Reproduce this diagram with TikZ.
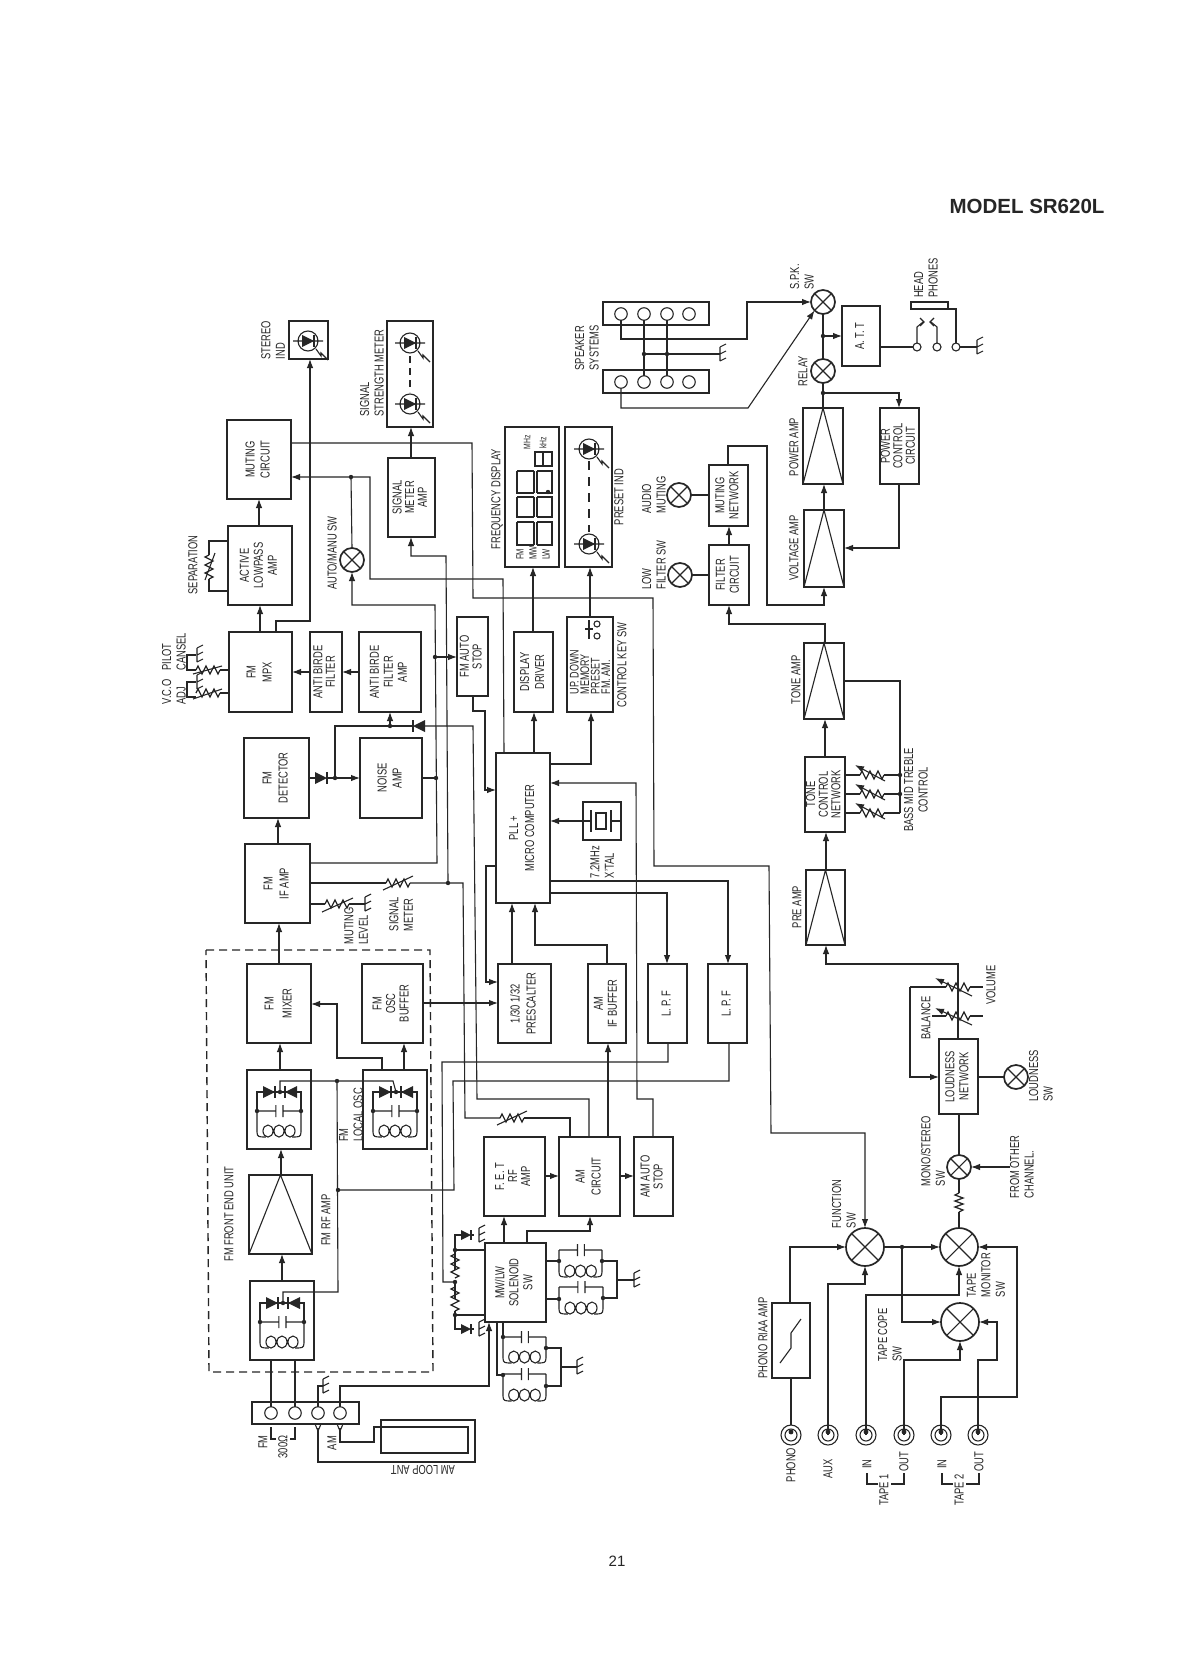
\documentclass[tikz,border=0pt]{standalone}
\usepackage{fontspec}
\setmainfont{Liberation Sans}[FakeStretch=0.72]
\newfontfamily\plainf{Liberation Sans}
\usetikzlibrary{arrows.meta}
\definecolor{ink}{HTML}{262626}
\newcounter{lbn}
\newcommand\rt[2][15]{\rotatebox{90}{\fontsize{13}{#1}\selectfont\begin{tabular}{@{}c@{}}#2\end{tabular}}}
\newcommand\bx[6]{\node[box,minimum width={(#4-#2)*1pt},minimum height={(#5-#3)*1pt}] (#1) at ({(#2+#4)/2},{(#3+#5)/2}) {#6};}
\newcommand\lb[4][center]{\stepcounter{lbn}\node[lbl,align=#1] (lb\thelbn) at (#2,#3) {#4};}
\newcommand\lamp[4]{\node[lampc,minimum size={2*#4*1pt}] (#1) at (#2,#3) {};
  \draw[wire] (#1.north east)--(#1.south west) (#1.north west)--(#1.south east);}
\newcommand\jack[3]{\node[lampc,minimum size=20pt,line width=1.1pt] (#1) at (#2,#3) {};
  \draw[wire] (#2,#3) circle (6);}
\newcommand\term[3]{\node[lampc,minimum size=12.5pt,line width=1.1pt] (#1) at (#2,#3) {};}
\newcommand\dotp[2]{\fill[ink] (#1,#2) circle (2.2);}
\newcommand\amptri[1]{\draw[wire] (#1.south west)--(#1.north)--(#1.south east);}
\newcommand\zigH[2]{\draw[wire,line width=1.3pt] (#1-12,#2) -- ++(2,-4) -- ++(4,8) -- ++(4,-8) -- ++(4,8) -- ++(4,-8) -- ++(4,8) -- ++(2,-4);}
\newcommand\zigV[2]{\draw[wire,line width=1.3pt] (#1,#2-12) -- ++(-4,2) -- ++(8,4) -- ++(-8,4) -- ++(8,4) -- ++(-8,4) -- ++(8,4) -- ++(-4,2);}
\newcommand\gnd[2]{\draw[wire] (#1,#2-7)--(#1,#2+7) (#1,#2-7)--++(6,-3) (#1,#2)--++(6,-3) (#1,#2+7)--++(6,-3);}
\newcommand\dioR[3]{\fill[ink] (#1-#3,#2-#3)--(#1-#3,#2+#3)--(#1+#3,#2)--cycle; \draw[wire] (#1+#3,#2-#3)--(#1+#3,#2+#3);}
\newcommand\dioL[3]{\fill[ink] (#1+#3,#2-#3)--(#1+#3,#2+#3)--(#1-#3,#2)--cycle; \draw[wire] (#1-#3,#2-#3)--(#1-#3,#2+#3);}
\newcommand\led[2]{\draw[wire] (#1,#2) circle (10) (#1-15,#2)--(#1+15,#2);
  \dioR{#1}{#2}{6}
  \draw[wire] (#1+8,#2+8)--(#1+13,#2+15)--(#1+13,#2+12)--(#1+20,#2+19);}
% tank: xL xR yCap yBottom
\newcommand\tank[4]{\draw[wire] (#1,#3)--({#1+(#2-#1)*0.43},#3) ({#1+(#2-#1)*0.43},#3-6)--({#1+(#2-#1)*0.43},#3+6)
   ({#1+(#2-#1)*0.59},#3-6)--({#1+(#2-#1)*0.59},#3+6) ({#1+(#2-#1)*0.59},#3)--(#2,#3)
   (#1,#3)--(#1,#4-5) to[out=90,in=180,looseness=0] (#1,#4-5) .. controls (#1,#4) and (#1+2,#4) .. ({#1+(#2-#1)*0.2},#4)
   (#2,#3)--(#2,#4-5) .. controls (#2,#4) and (#2-2,#4) .. ({#2-(#2-#1)*0.2},#4);
  \draw[wire] ({#1+(#2-#1)*0.25},#4-6) ellipse (5 and 6) ({#1+(#2-#1)*0.5},#4-6) ellipse (5 and 6) ({#1+(#2-#1)*0.75},#4-6) ellipse (5 and 6);}
\newcommand\tuner[3]{\bx{#1}{#2}{#3}{#2+64}{#3+79}{}
  \begin{scope}[shift={(#2,#3)}]
   \tank{10}{54}{41}{67}
   \draw[wire] (10,41)--(10,22)--(54,22)--(54,41);
   \dioR{22}{22}{6}\dioL{44}{22}{6}
   \dotp{33}{22}\dotp{10}{41}\dotp{54}{41}
  \end{scope}}
\newcommand\seg[4]{\draw[wire] (517,#1)--(517,#2)--(#3,#2) (#4,#2)--(552,#2)--(552,#1)--(#4,#1) (#3,#1)--(517,#1) (#3,#1)--(#3,#2) (#4,#1)--(#4,#2);}
\tikzset{
  wire/.style={draw=ink,line width=1.1pt},
  arr/.style={wire,-{Latex[length=9pt,width=6.5pt]}},
  box/.style={draw=ink,line width=1.9pt,rectangle,inner sep=0pt,outer sep=0pt,text=ink},
  lampc/.style={draw=ink,line width=1.7pt,circle,inner sep=0pt,outer sep=0pt},
  lbl/.style={rotate=90,inner sep=0pt,text=ink,font=\fontsize{13}{14.5}\selectfont},
}
\begin{document}
\begin{tikzpicture}[x=1pt,y=-1pt]
\useasboundingbox (0,0) rectangle (1188,1680);
\fill[white] (0,0) rectangle (1188,1680);

% ---- boxes
\bx{ster}{289}{321}{328}{359}{}
\bx{ssm}{387}{321}{433}{427}{}
\bx{mut}{227}{420}{291}{499}{\rt{MUTING\\CIRCUIT}}
\bx{alp}{228}{526}{292}{605}{\rt[14]{ACTIVE\\LOWPASS\\AMP}}
\bx{mpx}{229}{632}{292}{712}{\rt[16]{FM\\MPX}}
\bx{abf}{310}{632}{342}{712}{\rt[12]{ANTI BIRDE\\FILTER}}
\bx{aba}{359}{632}{421}{712}{\rt[14]{ANTI BIRDE\\FILTER\\AMP}}
\bx{sma}{388}{458}{435}{537}{\rt[12]{SIGNAL\\METER\\AMP}}
\bx{fdisp}{505}{427}{559}{567}{}
\bx{pind}{565}{427}{612}{567}{}
\bx{fas}{457}{617}{488}{696}{\rt[12]{FM AUTO\\STOP}}
\bx{disp}{514}{632}{553}{712}{\rt[15]{DISPLAY\\DRIVER}}
\bx{ckey}{567}{617}{613}{712}{}
\bx{pll}{496}{753}{550}{903}{\rt[16]{PLL +\\MICRO COMPUTER}}
\bx{xtal}{583}{802}{621}{840}{}
\bx{pres}{498}{964}{551}{1043}{\rt[16]{1/30 1/32\\PRESCALTER}}
\bx{aif}{588}{964}{626}{1043}{\rt[14]{AM\\IF BUFFER}}
\bx{lpfa}{648}{964}{687}{1043}{\rt{L. P. F}}
\bx{lpfb}{708}{964}{747}{1043}{\rt{L. P. F}}
\bx{det}{244}{738}{309}{818}{\rt[16]{FM\\DETECTOR}}
\bx{noise}{360}{738}{422}{818}{\rt[15]{NOISE\\AMP}}
\bx{ifa}{245}{844}{310}{923}{\rt[16]{FM\\IF AMP}}
\bx{mix}{247}{964}{311}{1043}{\rt[18]{FM\\MIXER}}
\bx{osc}{362}{964}{423}{1043}{\rt[13.5]{FM\\OSC\\BUFFER}}
\tuner{tuna}{247}{1070}
\tuner{tunb}{363}{1070}
\bx{rfa}{249}{1175}{312}{1254}{}
\tuner{tunc}{250}{1281}
\draw[wire,line width=1.4pt,dash pattern=on 8pt off 5pt] (206,950)--(430,950)--(433,1372)--(209,1372)--cycle;
\bx{strip}{252}{1402}{359}{1424}{}
\bx{fet}{484}{1137}{545}{1216}{\rt[13]{F. E. T\\RF\\AMP}}
\bx{amc}{559}{1137}{620}{1216}{\rt[16]{AM\\CIRCUIT}}
\bx{ast}{634}{1137}{673}{1216}{\rt[13]{AM AUTO\\STOP}}
\bx{sol}{485}{1243}{546}{1322}{\rt[14]{MW/LW\\SOLENOID\\SW}}
\bx{spka}{603}{302}{709}{325}{}
\bx{spkb}{603}{370}{709}{393}{}
\bx{att}{842}{306}{880}{366}{\rt{A. T. T}}
\bx{pwa}{803}{408}{843}{484}{}
\bx{pwc}{880}{408}{919}{484}{\rt[11.5]{POWER\\CONTROL\\CIRCUIT}}
\bx{vga}{804}{510}{844}{587}{}
\bx{mnet}{709}{465}{748}{526}{\rt[14]{MUTING\\NETWORK}}
\bx{filt}{709}{545}{749}{605}{\rt[14]{FILTER\\CIRCUIT}}
\bx{tamp}{804}{643}{844}{719}{}
\bx{tnet}{805}{757}{845}{832}{\rt[12]{TONE\\CONTROL\\NETWORK}}
\bx{pre}{806}{870}{845}{945}{}
\bx{loud}{939}{1039}{978}{1114}{\rt[14]{LOUDNESS\\NETWORK}}
\bx{riaa}{772}{1303}{810}{1378}{}
\draw[wire,line width=1.3pt,fill=white] (911,302) rectangle (948,309);
\coordinate (hp) at (948,309);
\amptri{rfa}\amptri{pwa}\amptri{vga}\amptri{tamp}\amptri{pre}
\draw[wire] (780,1363)--(791,1348)--(791,1333)--(801,1319);

% ---- lamps / switches
\lamp{amsw}{352}{560}{12}
\lamp{spksw}{823}{302}{12}
\lamp{rel}{823}{371}{12}
\lamp{lamA}{679}{495}{12}
\lamp{lamB}{680}{575}{12}
\lamp{lamL}{1016}{1077}{12}
\lamp{mono}{959}{1167}{12}
\lamp{fsw}{865}{1247}{19}
\lamp{tmon}{959}{1247}{19}
\lamp{tcop}{960}{1322}{19}

% ---- jacks and terminals
\jack{ja}{791}{1435}\jack{jb}{828}{1435}\jack{jc}{866}{1435}
\jack{jd}{904}{1435}\jack{je}{941}{1435}\jack{jf}{978}{1435}
\term{sa}{271}{1413}\term{sb}{295}{1413}\term{sc}{318}{1413}\term{sd}{340}{1413}
\term{ua}{621}{314}\term{ub}{644}{314}\term{uc}{667}{314}\term{ud}{689}{314}
\term{va}{621}{382}\term{vb}{644}{382}\term{vc}{667}{382}\term{vd}{689}{382}
\node[lampc,minimum size=8pt,line width=1.1pt] (ha) at (917,347) {};
\node[lampc,minimum size=8pt,line width=1.1pt] (hb) at (937,347) {};
\node[lampc,minimum size=8pt,line width=1.1pt] (hc) at (956,347) {};

% ---- LEDs
\led{308}{341}
\led{410}{343}\led{410}{404}
\draw[wire,dash pattern=on 7pt off 5pt] (410,356)--(410,392);
\led{589}{449}\led{589}{544}
\draw[wire,dash pattern=on 9pt off 7pt] (589,461)--(589,532);

% ---- frequency display
\seg{522}{545}{534}{537}
\seg{497}{517}{534}{537}
\seg{471}{493}{534}{537}
\draw[wire] (535,452) rectangle (552,466) (543,452)--(543,466);
\dotp{548}{492}
\node[lbl,font=\fontsize{10.5}{13}\selectfont,align=left] (fml) at (533,553) {FM\\MW\\LW};
\node[lbl,font=\fontsize{9.5}{11}\selectfont] (mhz) at (527,442) {MHz};
\node[lbl,font=\fontsize{9.5}{11}\selectfont] (khz) at (543,443) {kHz};

% ---- control key box
\node[lbl,font=\fontsize{12.5}{10.5}\selectfont,align=left] (ckt) at (590,672) {UP. DOWN\\MEMORY\\PRESET\\FM. AM.};
\draw[wire] (589,620)--(589,639) (585,629)--(593,629);
\draw[wire] (597,624) circle (3) (597,636) circle (3);

% ---- crystal
\draw[wire] (xtal.west)--(591,821) (591,810)--(591,832) (xtal.east)--(611,821) (611,810)--(611,832);
\draw[wire] (596,813) rectangle (606,829);

% ---- tuner section wiring
\draw[arr] (mix.north -| 279,0)--(ifa.south -| 279,0);
\draw[arr] (ifa.north -| 278,0)--(det.south -| 278,0);
\draw[arr] (tuna.north -| 280,0)--(mix.south -| 280,0);
\draw[arr] (tunb.north -| 404,0)--(osc.south -| 404,0);
\draw[arr] (rfa.north -| 281,0)--(tuna.south -| 281,0);
\draw[arr] (tunc.north -| 282,0)--(rfa.south -| 282,0);
\draw[arr] (tunb.north -| 382,0)--(382,1058)--(337,1058)--(337,1004)--(mix.east |- 0,1004);
\draw[wire] (280,1092)--(280,1081)--(393,1081)--(396,1092);
\dotp{337}{1081}
\draw[wire] (337,1081)--(338,1292)--(283,1292)--(283,1303);
\dotp{338}{1190}
\draw[wire] (338,1190)--(454,1190)--(453,1081)--(729,1081)--(lpfb.south -| 729,0);
\draw[wire] (lpfa.south -| 668,0)--(668,1062)--(442,1062)--(443,1282)--(455,1282);
\draw[wire] (271,1407)--(tunc.south -| 271,0);
\draw[wire] (295,1407)--(tunc.south -| 295,0);
\draw[wire] (318,1407)--(318,1386)--(323,1386);
\gnd{323}{1386}
\draw[arr] (sd.north)--(340,1386)--(489,1386)--(sol.south -| 489,0);
\draw[arr] (osc.east |- 0,1003)--(pres.west |- 0,1003);

% ---- IF / detector wiring
\draw[wire] (det.east |- 0,778)--(315,778);
\dioR{321}{778}{6}
\draw[wire] (327,778)--(335,778);
\dotp{335}{778}
\draw[arr] (335,778)--(noise.west |- 0,778);
\draw[wire] (335,778)--(335,726)--(413,726);
\dotp{390}{726}
\draw[arr] (390,726)--(aba.south -| 390,0);
\dioL{419}{726}{6}
\draw[wire] (425,726)--(473,726)--(477,1099)--(589,1099)--(amc.north -| 589,0);
\draw[wire] (noise.east |- 0,778)--(436,778);
\dotp{436}{778}
\draw[arr] (ifa.east |- 0,863)--(437,863)--(435,605)--(352,605)--(amsw.south);
\dotp{435}{657}
\draw[arr] (435,657)--(fas.west |- 0,657);
\draw[wire] (ifa.east |- 0,883)--(386,883);\zigH{398}{883}\draw[wire] (410,883)--(463,883)--(465,1118)--(500,1118);
\draw[wire] (383,890)--(413,876);
\dotp{448}{883}
\zigH{512}{1118}\draw[wire] (497,1125)--(527,1111);
\draw[wire] (524,1118)--(570,1118)--(amc.north -| 570,0);
\draw[arr] (448,883)--(446,556)--(411,556)--(sma.south -| 411,0);
\draw[wire] (ifa.east |- 0,904)--(325,904);\zigH{337}{904}\draw[wire] (322,912)--(353,898);\draw[wire] (349,904)--(365,904);
\gnd{365}{904}

% ---- MPX and muting
\draw[arr] (mpx.north -| 276,0)--(276,621)--(310,621)--(ster.south -| 310,0);
\draw[arr] (alp.north -| 259,0)--(mut.south -| 259,0);
\draw[arr] (mpx.north -| 260,0)--(alp.south -| 260,0);
\draw[arr] (abf.west |- 0,672)--(mpx.east |- 0,672);
\draw[arr] (aba.west |- 0,672)--(abf.east |- 0,672);
\draw[arr] (sma.north -| 411,0)--(ssm.south -| 411,0);
\draw[arr] (pll.north -| 504,0)--(503,579)--(370,579)--(370,477)--(mut.east |- 0,477);
\dotp{351}{477}
\draw[wire] (351,477)--(amsw.north);
\draw[arr] (mut.east |- 0,443)--(472,443)--(473,598)--(653,598)--(654,866)--(769,866)--(771,1133)--(865,1133)--(fsw.north);
% separation
\draw[wire] (alp.west |- 0,541)--(209,541)--(209,555);\zigV{209}{567}\draw[wire] (209,579)--(209,591)--(alp.west |- 0,591);
\draw[wire] (205,580)--(215,553);
% vco
\draw[wire] (mpx.west |- 0,670)--(220,670);\zigH{208}{670}\draw[wire] (196,670)--(187,670)--(187,655)--(196,655);\gnd{197}{655}
\draw[wire] (193,674)--(222,666);
\draw[wire] (mpx.west |- 0,693)--(220,693);\zigH{208}{693}\draw[wire] (196,697)--(187,697)--(187,682)--(196,682);\gnd{197}{682}
\draw[wire] (193,699)--(222,689);

% ---- PLL
\draw[arr] (fas.south -| 473,0)--(473,711)--(485,711)--(485,790)--(pll.west |- 0,790);
\draw[arr] (pll.north -| 534,0)--(disp.south -| 534,0);
\draw[arr] (disp.north -| 533,0)--(fdisp.south -| 533,0);
\draw[arr] (pll.east |- 0,764)--(591,764)--(ckey.south -| 591,0);
\draw[arr] (ckey.north -| 590,0)--(pind.south -| 590,0);
\draw[arr] (ast.north -| 653,0)--(653,1099)--(637,1099)--(636,783)--(pll.east |- 0,783);
\draw[arr] (xtal.west)--(pll.east |- xtal.west);
\draw[arr] (pll.west |- 0,866)--(486,866)--(486,982)--(pres.west |- 0,982);
\draw[arr] (pll.east |- 0,881)--(728,881)--(lpfb.north -| 728,0);
\draw[arr] (pll.east |- 0,893)--(667,893)--(lpfa.north -| 667,0);
\draw[arr] (pres.north -| 512,0)--(pll.south -| 512,0);
\draw[arr] (aif.north -| 607,0)--(607,945)--(535,945)--(pll.south -| 535,0);
\draw[arr] (amc.north -| 608,0)--(aif.south -| 608,0);

% ---- AM
\draw[arr] (sol.north -| 504,0)--(fet.south -| 504,0);
\draw[arr] (sol.north -| 527,0)--(527,1231)--(590,1231)--(amc.south -| 590,0);
\draw[arr] (fet.east |- 0,1176)--(amc.west |- 0,1176);
\draw[arr] (amc.east |- 0,1176)--(ast.west |- 0,1176);
% solenoid left
\draw[wire] (sol.west |- 0,1250)--(455,1250)--(455,1270);
\zigV{455}{1266}\draw[wire] (455,1282)--(455,1299);\zigV{455}{1299}
\dotp{455}{1250}\dotp{455}{1282}\dotp{455}{1315}
\draw[wire] (455,1311)--(455,1315)--(sol.west |- 0,1315);
\draw[wire] (455,1250)--(455,1235)--(461,1235);\dioR{466}{1235}{5}\draw[wire] (471,1235)--(474,1235);\gnd{479}{1235}
\draw[wire] (455,1315)--(455,1329)--(461,1329);\dioR{466}{1329}{5}\draw[wire] (471,1329)--(474,1329);\gnd{479}{1329}
% solenoid right tanks
\tank{559}{602}{1250}{1277}
\tank{559}{603}{1287}{1314}
\draw[wire] (sol.east |- 0,1261)--(559,1261) (sol.east |- 0,1299)--(559,1299);
\draw[wire] (602,1261)--(617,1261)--(617,1298)--(603,1298) (617,1280)--(634,1280);
\gnd{634}{1280}
\dotp{559}{1261}\dotp{602}{1261}\dotp{559}{1299}\dotp{603}{1298}
% solenoid bottom tanks
\tank{503}{546}{1337}{1363}
\tank{503}{546}{1374}{1401}
\draw[wire] (sol.south -| 503,0)--(503,1337) (sol.south -| 497,0)--(497,1375)--(503,1375);
\draw[wire] (546,1348)--(561,1348)--(561,1386)--(546,1386) (561,1367)--(577,1367);
\gnd{577}{1367}
\dotp{503}{1337}\dotp{546}{1348}\dotp{503}{1375}\dotp{546}{1386}

% ---- AM loop antenna
\draw[wire] (318,1428)--(318,1462)--(475,1462)--(475,1420)--(381,1420)--(381,1453)--(468,1453)--(468,1427)--(374,1427)--(374,1442)--(340,1442)--(340,1428);
\draw[wire] (315,1424)--(318,1431)--(321,1424) (337,1424)--(340,1431)--(343,1424);
\draw[wire] (271,1427)--(271,1439)--(276,1439) (295,1427)--(295,1439)--(290,1439);

% ---- speakers
\draw[arr] (ua.south)--(621,339)--(747,339)--(747,302)--(spksw.west);
\draw[arr] (va.south)--(621,408)--(748,408)--(spksw.south west);
\draw[wire] (ub.south)--(vb.north) (uc.south)--(vc.north);
\draw[wire] (644,354)--(720,354);
\gnd{720}{354}
\dotp{644}{354}\dotp{667}{354}
\draw[wire] (spksw.south)--(rel.north);
\dotp{823}{336}
\draw[arr] (823,336)--(att.west |- 0,336);
\draw[wire] (rel.south)--(pwa.north -| 823,0);
\dotp{823}{393}
\draw[arr] (823,393)--(899,393)--(pwc.north -| 899,0);
\draw[arr] (pwc.south -| 899,0)--(899,548)--(vga.east |- 0,548);
\draw[arr] (vga.north -| 824,0)--(pwa.south -| 824,0);
\draw[arr] (mnet.north -| 728,0)--(728,446)--(767,446)--(767,605)--(824,605)--(vga.south -| 824,0);
\draw[arr] (filt.north -| 729,0)--(mnet.south -| 729,0);
\draw[wire] (lamA.east)--(mnet.west |- lamA.east);
\draw[wire] (lamB.east)--(filt.west |- lamB.east);
\draw[arr] (tamp.north -| 825,0)--(825,624)--(729,624)--(filt.south -| 729,0);
\draw[wire] (att.east |- 0,347)--(ha.west);
\draw[wire] (hp)--(956,309)--(hc.north);
\draw[wire] (hc.east)--(977,347);
\gnd{977}{347}
\draw[wire] (ha.north)--(917,327)--(923,322) (hb.north)--(937,327)--(931,322);
\draw[wire] (920,318)--(924,322)--(920,326) (934,318)--(930,322)--(934,326);

% ---- tone
\draw[arr] (tnet.north -| 825,0)--(tamp.south -| 825,0);
\draw[arr] (pre.north -| 826,0)--(tnet.south -| 826,0);
\draw[wire] (tamp.east |- 0,681)--(900,681)--(900,813);
\foreach \yy in {775,794,813}{
  \draw[wire] (tnet.east |- 0,\yy)--(860,\yy);
  \zigH{872}{\yy}
  \draw[wire] (884,\yy)--(900,\yy);
  \draw[wire,<-,>={Latex[length=9pt,width=6.5pt]}] (855,\yy-10)--(885,\yy+6);
}
\dotp{900}{775}\dotp{900}{794}

% ---- pre amp, volume
\draw[arr] (958,1039)--(958,964)--(826,964)--(pre.south -| 826,0);
\draw[wire] (910,987)--(946,987);\zigH{958}{987}\draw[wire] (970,987)--(983,987);
\draw[wire,<-,>={Latex[length=9pt,width=6.5pt]}] (935,978)--(972,996);
\draw[wire] (932,1016)--(946,1016);\zigH{958}{1016}\draw[wire] (970,1016)--(983,1016);
\draw[wire,<-,>={Latex[length=9pt,width=6.5pt]}] (935,1008)--(972,1025);
\draw[arr] (910,987)--(910,1077)--(loud.west |- 0,1077);
\draw[wire] (loud.east |- lamL.west)--(lamL.west);
\draw[wire] (loud.south -| 959,0)--(mono.north);
\draw[wire] (mono.south)--(959,1193);
\draw[wire,line width=1.3pt] (959,1193)--++(-4,2)--++(8,3)--++(-8,3)--++(8,3)--++(-8,3)--++(8,3)--++(-4,2);
\draw[wire] (959,1212)--(tmon.north);
\coordinate (fromch) at (1010,1167);
\draw[arr] (fromch)--(mono.east);

% ---- inputs
\draw[wire] (ja.north)--(riaa.south -| 791,0);
\draw[arr] (riaa.north -| 790,0)--(790,1247)--(fsw.west);
\draw[arr] (jb.center)--(828,1284)--(865,1284)--(fsw.south);
\draw[wire] (fsw.east)--(902,1247);
\dotp{902}{1247}
\draw[arr] (902,1247)--(tmon.west);
\draw[arr] (902,1247)--(902,1322)--(tcop.west);
\draw[arr] (jc.center)--(866,1295)--(959,1295)--(tmon.south);
\draw[arr] (jd.center)--(904,1360)--(960,1360)--(tcop.south);
\draw[arr] (je.center)--(941,1397)--(1017,1397)--(1017,1247)--(tmon.east);
\draw[arr] (jf.center)--(978,1360)--(997,1360)--(997,1322)--(tcop.east);
\foreach \jx in {791,828,866,904,941,978}{\fill[ink] (\jx,1432) circle (2.4);}

% ---- tape brackets
\draw[wire] (867,1473)--(867,1484)--(878,1484) (891,1484)--(904,1484)--(904,1473);
\draw[wire] (942,1473)--(942,1484)--(953,1484) (966,1484)--(979,1484)--(979,1473);

% ---- labels
\lb[left]{273}{340}{STEREO\\IND}
\lb[left]{372}{373}{SIGNAL\\STRENGTH METER}
\lb{332}{553}{AUTO/MANU SW}
\lb{193}{565}{SEPARATION}
\lb[left]{174}{692}{V.C.O\\ADJ}
\lb[left]{174}{652}{PILOT\\CANSEL}
\lb{497}{499}{FREQUENCY DISPLAY}
\lb{619}{497}{PRESET IND}
\lb{622}{665}{CONTROL KEY SW}
\lb[left]{602}{862}{7.2MHz\\X'TAL}
\lb[left]{654}{565}{LOW\\FILTER SW}
\lb[left]{654}{495}{AUDIO\\MUTING}
\lb{794}{447}{POWER AMP}
\lb{794}{548}{VOLTAGE AMP}
\lb[left]{587}{348}{SPEAKER\\SYSTEMS}
\lb[left]{802}{277}{S.P.K.\\SW}
\lb{803}{371}{RELAY}
\lb[left]{926}{278}{HEAD\\PHONES}
\lb{796}{680}{TONE AMP}
\lb{797}{907}{PRE AMP}
\lb{916}{790}{BASS MID TREBLE\\CONTROL}
\lb{991}{985}{VOLUME}
\lb{926}{1018}{BALANCE}
\lb[left]{1041}{1076}{LOUDNESS\\SW}
\lb[left]{933}{1151}{MONO/STEREO\\SW}
\lb[left]{1022}{1167}{FROM OTHER\\CHANNEL.}
\lb[left]{844}{1204}{FUNCTION\\SW}
\lb{763}{1338}{PHONO RIAA AMP}
\lb[left]{890}{1335}{TAPE COPE\\SW}
\lb[left]{986}{1275}{TAPE\\MONITOR\\SW}
\lb{791}{1465}{PHONO}
\lb{828}{1469}{AUX}
\lb{867}{1464}{IN}
\lb{904}{1462}{OUT}
\lb{884}{1490}{TAPE 1}
\lb{942}{1464}{IN}
\lb{979}{1462}{OUT}
\lb{959}{1490}{TAPE 2}
\lb[left]{351}{1115}{FM\\LOCAL OSC}
\lb{326}{1220}{FM RF AMP}
\lb{229}{1214}{FM FRONT END UNIT}
\lb[left]{356}{926}{MUTING\\LEVEL}
\lb[left]{401}{914}{SIGNAL\\METER}
\lb{263}{1442}{FM}
\lb{283}{1447}{300Ω}
\lb{332}{1443}{AM}
\node[inner sep=0pt,rotate=180,text=ink,font=\fontsize{13}{14.5}\selectfont] (loopant) at (423,1470) {AM LOOP ANT};
\node[inner sep=0pt,text=ink,font=\plainf\bfseries\fontsize{20.5}{24}\selectfont] (model) at (1027,206) {MODEL SR620L};
\node[inner sep=0pt,text=ink,font=\plainf\fontsize{15}{18}\selectfont] (pageno) at (617,1561) {21};
\end{tikzpicture}
\end{document}
